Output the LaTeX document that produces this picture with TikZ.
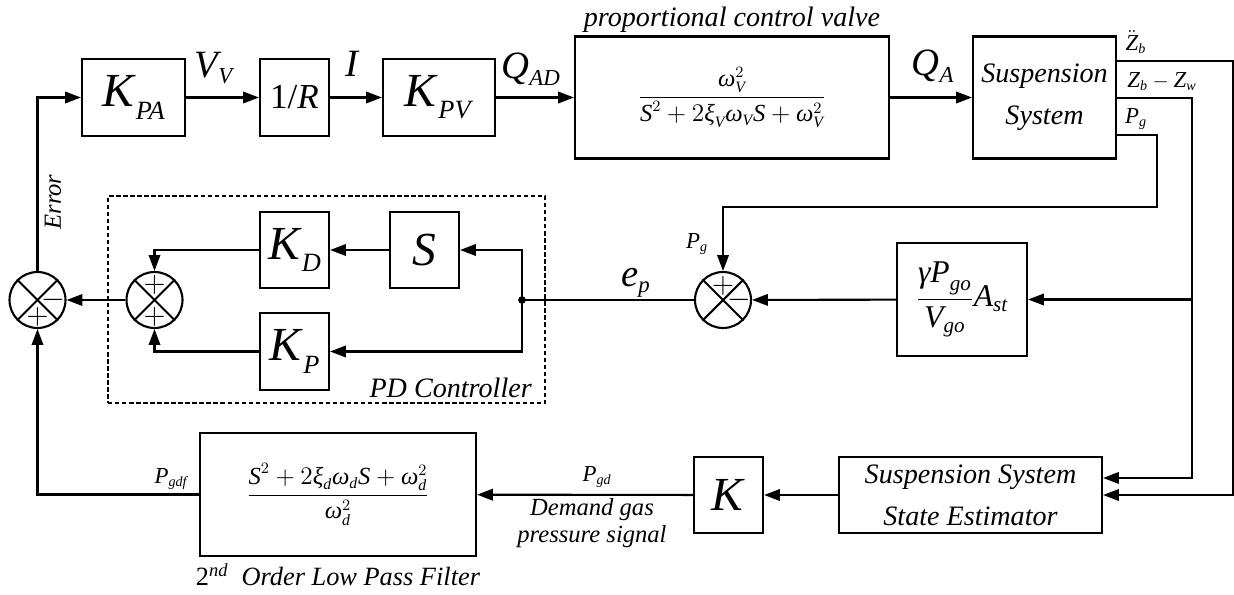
\documentclass[tikz,border=0pt]{standalone}
\usepackage{amsmath}
\usepackage{fontspec}
\setmainfont{Liberation Serif}
\usepackage{tikz}
\usetikzlibrary{arrows.meta, positioning}
\DeclareMathSizes{22}{22}{13}{10}
\DeclareMathSizes{18}{18}{12}{9}
\DeclareMathSizes{14}{14}{9}{7}
\DeclareMathSizes{13}{13}{8}{6}
\newcommand{\gainlbl}[2]{\textit{#1}\raisebox{-7pt}{\fontsize{15}{15}\selectfont\textit{#2}}}

\begin{document}
\begin{tikzpicture}[
  x=0.02cm, y=-0.02cm,
  blk/.style={rectangle, draw, line width=1.2pt, inner sep=0pt},
  sumjn/.style={circle, draw, line width=1.2pt, minimum size=1.12cm, inner sep=0pt},
  sgn/.style={inner sep=0pt, font=\fontsize{16}{16}\selectfont},
  arrow/.style={-{Triangle[length=9pt, width=6.5pt]}, line width=1.2pt},
  wire/.style={line width=1.2pt},
  sig/.style={inner sep=0pt, font=\fontsize{22}{22}\selectfont},
  ssig/.style={inner sep=0pt, font=\fontsize{13}{13}\selectfont},
  ttl/.style={font=\fontsize{16}{24}\selectfont\itshape, align=center},
  pdbox/.style={draw, line width=1pt, dash pattern=on 2.5pt off 1.5pt,
                minimum width=8.74cm, minimum height=4.14cm}
]
  \useasboundingbox (0,0) rectangle (1234,595);

  % forward path
  \node[blk, minimum width=2.06cm, minimum height=1.54cm, font=\fontsize{27}{27}\selectfont] (kpa) at (133.5,97.5) {\gainlbl{K}{PA}};
  \node[blk, minimum width=1.38cm, minimum height=1.54cm, font=\fontsize{20}{20}\selectfont] (invr) at (294.5,97.5) {1/\textit{R}};
  \node[blk, minimum width=2.24cm, minimum height=1.54cm, font=\fontsize{27}{27}\selectfont] (kpv) at (439,97.5) {\gainlbl{K}{PV}};
  \node[blk, minimum width=6.28cm, minimum height=2.44cm, font=\fontsize{14}{14}\selectfont] (valve) at (732,97.5)
    {$\dfrac{\textit{ω}^{2}_{\textit{V}}}{\textit{S}^{2}+2\textit{ξ}_{\textit{V}}\textit{ω}_{\textit{V}}\textit{S}+\textit{ω}^{2}_{\textit{V}}}$};
  \node[ttl, inner sep=0pt, above=1.5pt of valve] (valvettl) {proportional control valve};
  \node[blk, ttl, minimum width=2.86cm, minimum height=2.44cm] (susp) at (1044.5,97.5) {Suspension\\System};

  % feedback path
  \node[blk, minimum width=2.6cm, minimum height=2.26cm, font=\fontsize{18}{18}\selectfont] (gamma) at (962,299.5)
    {$\dfrac{\textit{γP}_{\textit{go}}}{\textit{V}_{\textit{go}}}\textit{A}_{\textit{st}}$};
  \node[sumjn] (sume) at (723,300) {};
  \coordinate (jn) at (522,300);

  % PD controller
  \node[pdbox] (pdframe) at (326.5,299.5) {};
  \node[blk, minimum width=1.38cm, minimum height=1.52cm, font=\fontsize{27}{27}\selectfont] (sbox) at (424.5,250) {\textit{S}};
  \node[blk, minimum width=1.38cm, minimum height=1.52cm, font=\fontsize{27}{27}\selectfont] (kd) at (294.5,250) {\gainlbl{K}{D}};
  \node[blk, minimum width=1.38cm, minimum height=1.54cm, font=\fontsize{27}{27}\selectfont] (kp) at (294.5,351.5) {\gainlbl{K}{P}};
  \node[sumjn] (sumpd) at (154.5,300) {};
  \node[sumjn] (sumerr) at (37.5,300) {};
  \node[font=\fontsize{16}{16}\selectfont\itshape, anchor=base east] (pdttl) at ([xshift=-4.5pt,yshift=3.4pt]pdframe.south east) {PD Controller};

  % estimator and filter
  \node[blk, ttl, minimum width=5.26cm, minimum height=1.52cm] (est) at (970.5,495) {Suspension System\\State Estimator};
  \node[blk, minimum width=1.38cm, minimum height=1.52cm, font=\fontsize{27}{27}\selectfont] (kbox) at (728.5,495) {\textit{K}};
  \node[blk, minimum width=5.52cm, minimum height=2.46cm, font=\fontsize{14}{14}\selectfont] (filt) at (338,494.5)
    {$\dfrac{\textit{S}^{2}+2\textit{ξ}_{\textit{d}}\textit{ω}_{\textit{d}}\textit{S}+\textit{ω}^{2}_{\textit{d}}}{\textit{ω}^{2}_{\textit{d}}}$};
  \node[font=\fontsize{15}{15}\selectfont\itshape] (filtttl) at (338,575) {\upshape 2\textsuperscript{\itshape nd}\ \ \itshape Order Low Pass Filter};

  % summing junctions
  \foreach \s in {sume, sumpd, sumerr}
    \draw[line width=1.2pt] (\s.45) -- (\s.225) (\s.135) -- (\s.315);
  \node[sgn] at ([xshift=9pt]sumerr.center) {$-$};
  \node[sgn] at ([yshift=-9.5pt]sumerr.center) {$+$};
  \node[sgn] at ([yshift=8.5pt]sumpd.center) {$+$};
  \node[sgn] at ([yshift=-9.5pt]sumpd.center) {$+$};
  \node[sgn] at ([yshift=8pt]sume.center) {$+$};
  \node[sgn] at ([xshift=9pt]sume.center) {$-$};

  % connectors
  \coordinate (zddc) at (1233,61);
  \coordinate (zrelc) at (1192,98);
  \coordinate (pgc) at (1157,135);
  \coordinate (pgd) at (1157,207);

  \draw[arrow] (sumerr.north) |- (kpa.west);
  \draw[arrow] (kpa) -- (invr);
  \draw[arrow] (invr) -- (kpv);
  \draw[arrow] (kpv) -- (valve);
  \draw[arrow] (valve) -- (susp);
  \draw[arrow] (susp.east |- zddc) -- (zddc) |- (est.east);
  \draw[arrow] (susp.east |- zrelc) -- (zrelc) |- ([yshift=9.7pt]est.east);
  \draw[arrow] (zrelc |- gamma.east) -- (gamma.east);
  \draw[arrow] (susp.east |- pgc) -- (pgc) -- (pgd) -| (sume.north);
  \draw[arrow] (gamma) -- (sume);
  \draw[wire] (sume) -- (jn);
  \fill (jn) circle (2.2pt);
  \draw[arrow] (jn) |- (sbox);
  \draw[arrow] (jn) |- (kp);
  \draw[arrow] (sbox) -- (kd);
  \draw[arrow] (kd) -| (sumpd);
  \draw[arrow] (kp) -| (sumpd);
  \draw[arrow] (sumpd) -- (sumerr);
  \draw[arrow] (est) -- (kbox);
  \draw[arrow] (kbox) -- (filt);
  \draw[arrow] (filt) -| (sumerr);

  % signal labels
  \node[sig] (vv) at (214,68) {$\textit{V}_{\textit{V}}$};
  \node[sig] (cur) at (353,64) {\textit{I}};
  \node[sig] (qad) at (531,69) {$\textit{Q}_{\textit{AD}}$};
  \node[sig] (qa) at (933,66) {$\textit{Q}_{\textit{A}}$};
  \node[sig] (ep) at (636,283) {$\textit{e}_{\textit{p}}$};
  \node[ssig] (zdd) at (1136,42) {$\ddot{\textit{Z}}_{\textit{b}}$};
  \node[ssig] (zrel) at (1162,82) {$\textit{Z}_{\textit{b}}-\textit{Z}_{\textit{w}}$};
  \node[ssig] (pgout) at (1136,119) {$\textit{P}_{\textit{g}}$};
  \node[ssig] (pgin) at (697,244) {$\textit{P}_{\textit{g}}$};
  \node[ssig] (pgdf) at (171,479) {$\textit{P}_{\textit{gdf}}$};
  \node[ssig] (pgdl) at (597,477) {$\textit{P}_{\textit{gd}}$};
  \node[font=\fontsize{14}{15}\selectfont\itshape, align=center] (demand) at (592,523) {Demand gas\\pressure signal};
  \node[font=\fontsize{14}{14}\selectfont\itshape, rotate=90] (err) at (53,202) {Error};
\end{tikzpicture}
\end{document}
